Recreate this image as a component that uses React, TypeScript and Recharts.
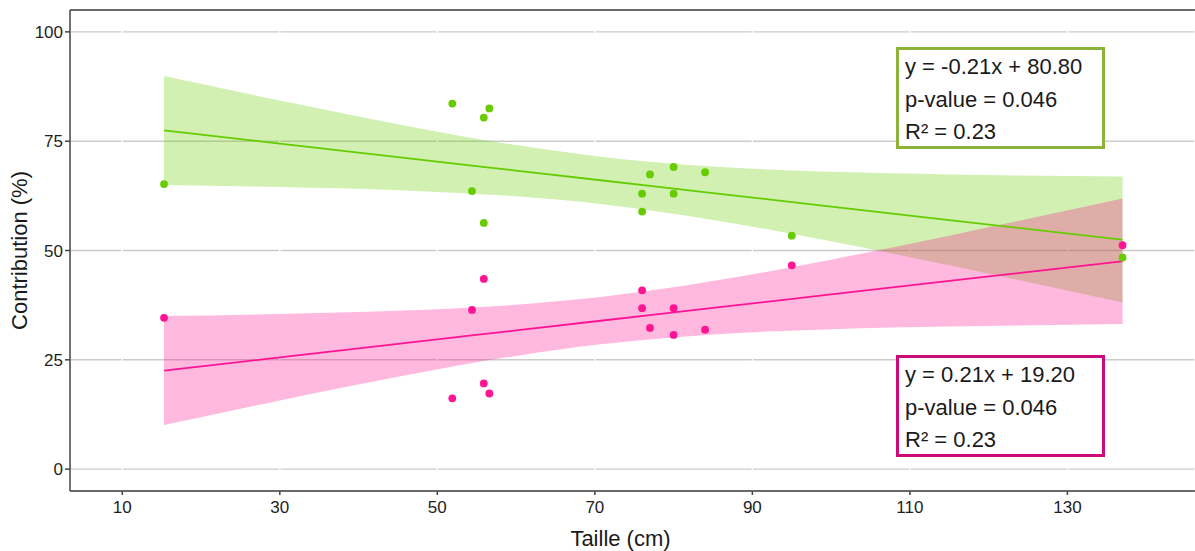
import React from "react";
import {
  ComposedChart,
  Area,
  Line,
  Scatter,
  XAxis,
  YAxis,
  CartesianGrid,
  ReferenceLine,
} from "recharts";

// taille (cm) des individus
const tailles = [15.3, 51.9, 56.6, 55.9, 54.4, 55.9, 77, 80, 84, 76, 80, 76, 95, 137];
// contribution (%) groupe vert / groupe rose
const contribVert = [65.2, 83.6, 82.5, 80.4, 63.6, 56.3, 67.4, 69.1, 67.9, 63.0, 63.0, 58.9, 53.4, 48.4];
const contribRose = [34.6, 16.2, 17.3, 19.6, 36.4, 43.5, 32.3, 30.7, 31.9, 36.8, 36.8, 40.9, 46.6, 51.2];

// droite de régression + intervalle de confiance
const xFit = [15.3, 30, 45, 60, 71, 85, 100, 115, 137];
const fitVert = [77.45, 74.44, 71.35, 68.27, 66.01, 63.13, 60.05, 56.97, 52.45];
const basVert = [65.0, 64.5, 63.8, 62.4, 60.6, 57.0, 52.1, 46.6, 38.1];
const hautVert = [89.9, 84.3, 78.9, 74.1, 71.4, 69.2, 68.0, 67.4, 66.9];
const fitRose = [22.55, 25.56, 28.65, 31.73, 33.99, 36.87, 39.95, 43.03, 47.55];
const basRose = [10.1, 15.7, 21.1, 25.9, 28.6, 30.8, 32.0, 32.6, 33.2];
const hautRose = [35.0, 35.5, 36.2, 37.6, 39.4, 43.0, 47.9, 53.4, 61.9];

const xTicks = [10, 30, 50, 70, 90, 110, 130];
const yTicks = [0, 25, 50, 75, 100];

const eqVert = ["y = -0.21x + 80.80", "p-value = 0.046", "R² = 0.23"];
const eqRose = ["y = 0.21x + 19.20", "p-value = 0.046", "R² = 0.23"];

const VERT = "#66CC00";
const ROSE = "#FF1493";

const bandes = xFit.map((x, i) => ({
  x,
  fitVert: fitVert[i],
  bandeVert: [basVert[i], hautVert[i]],
  fitRose: fitRose[i],
  bandeRose: [basRose[i], hautRose[i]],
}));
const ptsVert = tailles.map((x, i) => ({ x, y: contribVert[i] }));
const ptsRose = tailles.map((x, i) => ({ x, y: contribRose[i] }));

const Point = (props: any) => {
  const { cx, cy, fill } = props;
  return <circle cx={cx} cy={cy} r={3.9} fill={fill} />;
};

const EqBox = ({ lines, color, top }: { lines: string[]; color: string; top: number }) => (
  <div
    style={{
      position: "absolute",
      left: 896,
      top: top,
      width: 209,
      height: 102,
      boxSizing: "border-box",
      border: `3px solid ${color}`,
      background: "#fff",
      padding: "1px 6px",
      fontFamily: "'Liberation Sans', Arial, sans-serif",
      fontSize: 22,
      lineHeight: "32.5px",
      color: "#1a1a1a",
      whiteSpace: "nowrap",
    }}
  >
    {lines.map((l) => (
      <div key={l}>{l}</div>
    ))}
  </div>
);

const App = () => {
  const tickStyle = { fontSize: 17, fill: "#1e1e1e", fontFamily: "'Liberation Sans', Arial, sans-serif" };
  return (
    <div
      style={{
        position: "absolute",
        left: 0,
        top: 0,
        width: 1195,
        height: 551,
        overflow: "hidden",
        background: "#fff",
      }}
    >
      <ComposedChart
        width={1205}
        height={551}
        data={bandes}
        margin={{ top: 10, right: 10, bottom: 0, left: 0 }}
        style={{ fontFamily: "'Liberation Sans', Arial, sans-serif" }}
      >
        <CartesianGrid vertical={false} stroke="#cbcbcb" strokeWidth={1.4} />
        <CartesianGrid horizontal={false} stroke="#ffffff" strokeWidth={1.4} />
        <XAxis
          type="number"
          dataKey="x"
          domain={[3.36, 146.2]}
          ticks={xTicks}
          allowDataOverflow
          height={60}
          tick={tickStyle}
          tickSize={4}
          tickMargin={6}
          stroke="#444"
          strokeWidth={1.5}
          label={{
            value: "Taille (cm)",
            position: "insideBottom",
            offset: 5,
            dx: -12,
            style: { fontSize: 22, fill: "#1a1a1a" },
          }}
        />
        <YAxis
          type="number"
          domain={[-5, 105]}
          ticks={yTicks}
          allowDataOverflow
          width={70}
          tick={tickStyle}
          tickSize={5}
          tickMargin={2}
          stroke="#444"
          strokeWidth={1.5}
          label={{
            value: "Contribution (%)",
            angle: -90,
            position: "insideLeft",
            offset: 19,
            style: { textAnchor: "middle", fontSize: 22, fill: "#1a1a1a" },
          }}
        />
        <ReferenceLine y={105} stroke="#444" strokeWidth={1.5} />
        <Area
          dataKey="bandeVert"
          type="monotone"
          stroke="none"
          fill={VERT}
          fillOpacity={0.3}
          isAnimationActive={false}
        />
        <Line dataKey="fitVert" type="monotone" stroke={VERT} strokeWidth={1.8} dot={false} isAnimationActive={false} />
        <Area
          dataKey="bandeRose"
          type="monotone"
          stroke="none"
          fill={ROSE}
          fillOpacity={0.3}
          isAnimationActive={false}
        />
        <Line dataKey="fitRose" type="monotone" stroke={ROSE} strokeWidth={1.8} dot={false} isAnimationActive={false} />
        <Scatter data={ptsVert} dataKey="y" fill={VERT} shape={<Point />} isAnimationActive={false} />
        <Scatter data={ptsRose} dataKey="y" fill={ROSE} shape={<Point />} isAnimationActive={false} />
      </ComposedChart>
      <EqBox lines={eqVert} color="#8DB33A" top={47} />
      <EqBox lines={eqRose} color="#CC0A7A" top={355} />
    </div>
  );
};

export default App;
